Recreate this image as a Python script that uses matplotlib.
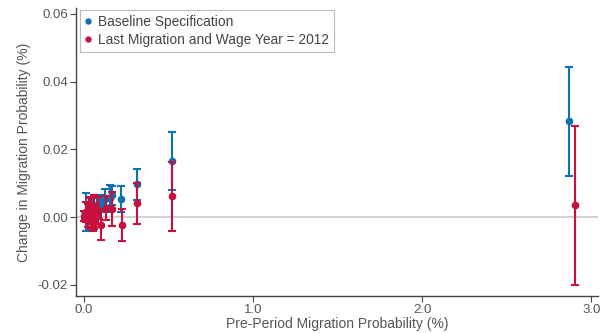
import matplotlib
matplotlib.use("Agg")
import matplotlib.pyplot as plt

plt.rcParams['font.family'] = ['Liberation Sans', 'DejaVu Sans']

# Baseline specification
base_x = [0.005, 0.012, 0.02, 0.03, 0.045, 0.06, 0.075, 0.085, 0.098, 0.125, 0.155, 0.165, 0.22, 0.31, 0.52, 2.87]
base_y = [0.0005, 0.0015, 0.0015, 0.0020, 0.0025, 0.0030, 0.0035, 0.0030, 0.0040, 0.0052, 0.0055, 0.0065, 0.0053, 0.0097, 0.0165, 0.0283]
base_e = [0.0010, 0.0055, 0.0030, 0.0035, 0.0030, 0.0035, 0.0030, 0.0035, 0.0025, 0.0030, 0.0040, 0.0028, 0.0038, 0.0046, 0.0085, 0.0161]

# Last migration and wage year = 2012
alt_x = [0.0, 0.01, 0.02, 0.03, 0.04, 0.05, 0.06, 0.07, 0.08, 0.10, 0.13, 0.165, 0.225, 0.31, 0.52, 2.90]
alt_y = [0.0003, 0.0015, 0.0005, 0.0020, 0.0010, 0.0000, 0.0015, 0.0005, 0.0020, -0.0024, 0.0027, 0.0024, -0.0024, 0.0041, 0.0062, 0.0035]
alt_e = [0.0015, 0.0030, 0.0035, 0.0040, 0.0045, 0.0040, 0.0050, 0.0035, 0.0040, 0.0045, 0.0035, 0.0050, 0.0048, 0.0060, 0.0102, 0.0234]

xticks = [0.0, 1.0, 2.0, 3.0]
yticks = [-0.02, 0.00, 0.02, 0.04, 0.06]

blue = '#0B72B3'
red = '#C8103E'
gray = '#555555'

fig = plt.figure(figsize=(6, 3.33), dpi=100)
ax = fig.add_axes([0.127, 0.111, 0.870, 0.865])

ax.axhline(0, color='#c8c8c8', lw=1.2, zorder=1)

ax.errorbar(base_x, base_y, yerr=base_e, fmt='o', color=blue, ms=4.5,
            elinewidth=1.5, capsize=3.2, capthick=1.5, zorder=3,
            label='Baseline Specification')
ax.errorbar(alt_x, alt_y, yerr=alt_e, fmt='o', color=red, ms=4.5,
            elinewidth=1.5, capsize=3.2, capthick=1.5, zorder=4,
            label='Last Migration and Wage Year = 2012')

ax.set_xlim(-0.047, 3.04)
ax.set_ylim(-0.0233, 0.0617)
ax.set_xticks(xticks)
ax.set_xticklabels([f'{t:.1f}' for t in xticks])
ax.set_yticks(yticks)
ax.set_yticklabels([f'{t:.2f}' for t in yticks])

for s in ['top', 'right']:
    ax.spines[s].set_visible(False)
for s in ['left', 'bottom']:
    ax.spines[s].set_color('#444444')
    ax.spines[s].set_linewidth(1.0)
ax.tick_params(colors=gray, labelsize=9.5, length=4, color='#444444')
ax.tick_params(axis='x', pad=1.5)
ax.tick_params(axis='y', pad=2)

ax.set_xlabel('Pre-Period Migration Probability (%)', color=gray, fontsize=10, labelpad=1)
ax.set_ylabel('Change in Migration Probability (%)', color=gray, fontsize=10, labelpad=5)

handles, labels = ax.get_legend_handles_labels()
handles = [h[0] for h in handles]
leg = ax.legend(handles, labels, loc='upper left', fontsize=9.9, frameon=True,
                fancybox=False, edgecolor='#aaaaaa', markerscale=0.8,
                handlelength=0.5, handletextpad=0.45, borderpad=0.35,
                labelspacing=0.3, borderaxespad=0.0,
                bbox_to_anchor=(0.007, 0.993))
leg.get_frame().set_linewidth(0.8)
for t in leg.get_texts():
    t.set_color('#444444')

fig.savefig('out.png', dpi=100)
